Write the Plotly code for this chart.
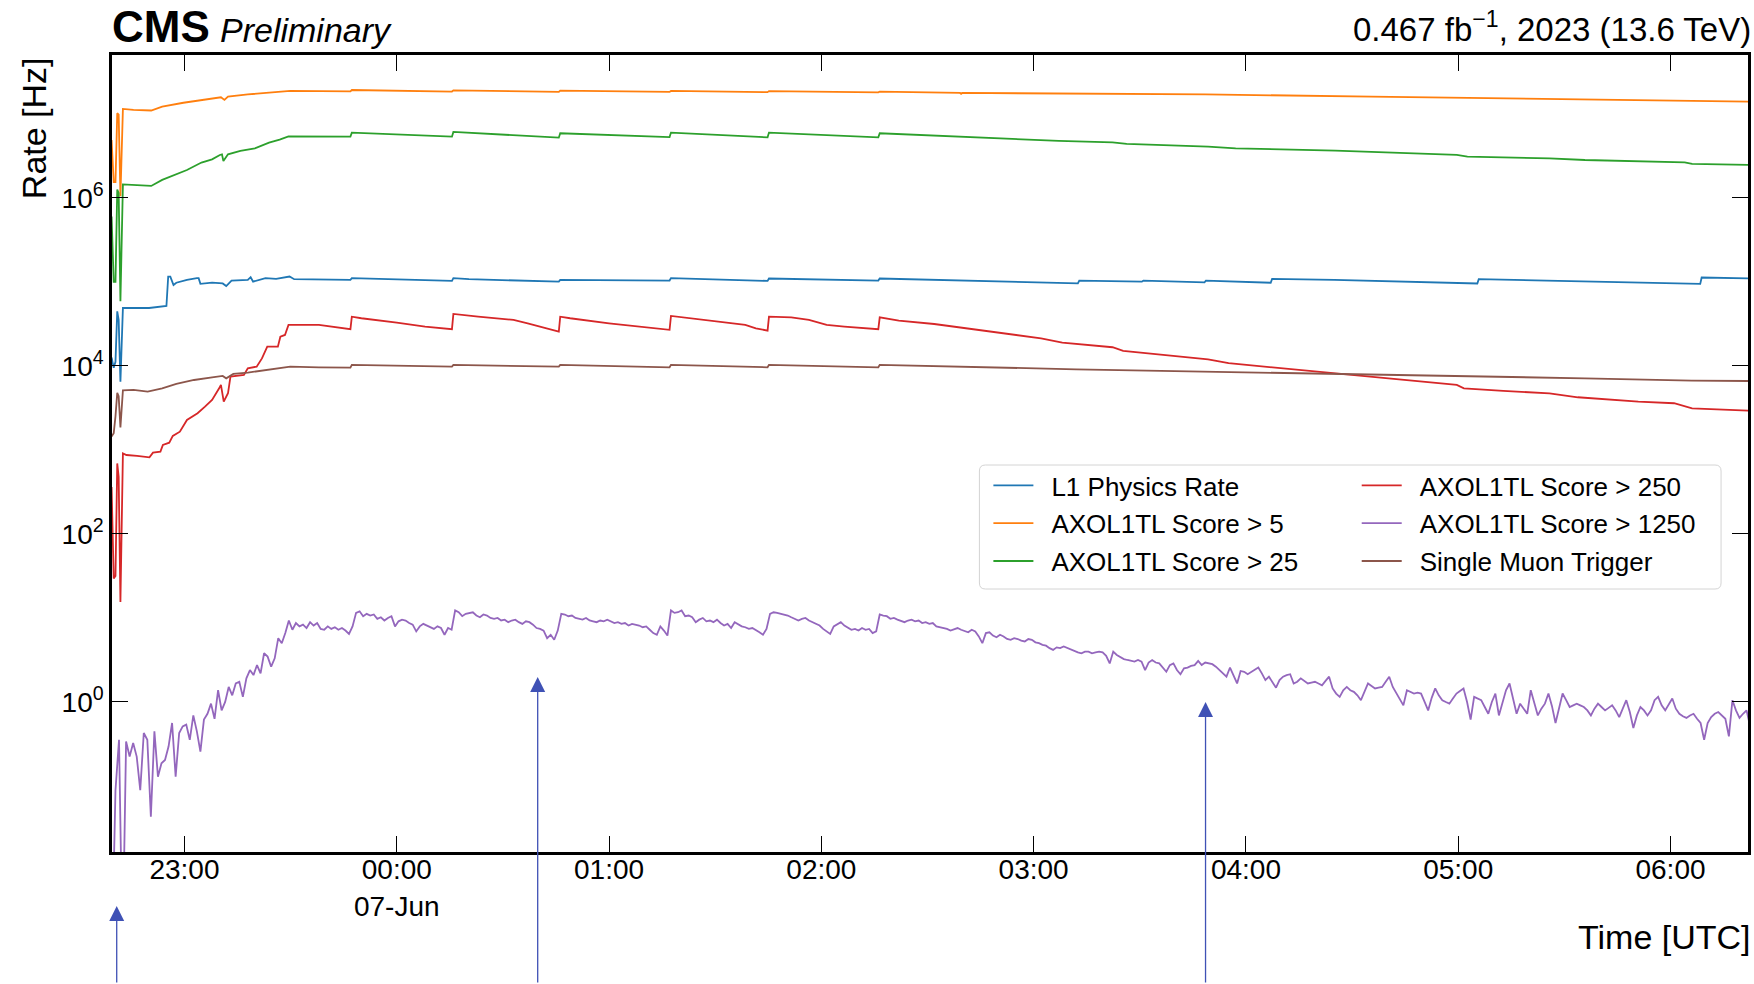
import pandas as pd
import plotly.graph_objects as go

# ---------------------------------------------------------------------------
# Trigger rates during the fill of 6/7 June 2023 (UTC clock times)
# ---------------------------------------------------------------------------
RUN_DAY = "2023-06-06"
NEXT_DAY = "2023-06-07"


def stamp(times):
    """Attach the calendar day to clock times (evening of 6 June, then 7 June)."""
    return [f"{RUN_DAY if t >= '12' else NEXT_DAY} {t}" for t in times]


series_names = [
    "L1 Physics Rate",
    "AXOL1TL Score > 5",
    "AXOL1TL Score > 25",
    "AXOL1TL Score > 250",
    "AXOL1TL Score > 1250",
    "Single Muon Trigger",
]
series_colors = ["#1f77b4", "#ff7f0e", "#2ca02c", "#d62728", "#9467bd", "#8c564b"]

# L1 physics rate [Hz]
l1_time = [
    "22:39:24", "22:40:00", "22:40:30", "22:41:00", "22:41:24", "22:41:54", "22:42:36",
    "22:50:00", "22:54:54", "22:55:24", "22:56:00", "22:56:54", "22:57:42", "23:00:42",
    "23:03:30", "23:04:00", "23:04:30", "23:07:48", "23:10:48", "23:11:48", "23:13:18",
    "23:17:54", "23:18:42", "23:19:24", "23:22:54", "23:25:54", "23:29:42", "23:31:00",
    "23:46:54", "23:47:18", "00:15:36", "00:16:00", "00:20:24", "00:45:48", "00:46:12",
    "01:10:00", "01:17:06", "01:17:30", "01:44:48", "01:45:12", "02:16:06", "02:16:30",
    "02:39:24", "02:52:00", "03:12:30", "03:12:54", "03:30:36", "03:31:00", "03:48:18",
    "03:48:42", "04:07:00", "04:07:24", "04:25:00", "05:05:24", "05:05:48", "05:25:00",
    "06:08:24", "06:08:48", "06:22:30",
]
l1_rate = [
    1.26e4, 9.5e3, 1.12e4, 4.47e4, 3.55e4, 6.5e3, 4.9e4,
    4.9e4, 5.18e4, 1.16e5, 1.16e5, 9.2e4, 9.8e4, 1.06e5,
    1.11e5, 1.11e5, 9.5e4, 9.8e4, 9.6e4, 8.95e4, 1.04e5,
    1.06e5, 1.14e5, 1.01e5, 1.11e5, 1.09e5, 1.16e5, 1.08e5,
    1.06e5, 1.11e5, 1.03e5, 1.11e5, 1.08e5, 1.01e5, 1.06e5,
    1.04e5, 1.04e5, 1.11e5, 1.03e5, 1.10e5, 1.04e5, 1.10e5,
    1.04e5, 1.01e5, 9.6e4, 1.04e5, 1.01e5, 1.04e5, 9.9e4,
    1.04e5, 9.8e4, 1.09e5, 1.06e5, 9.6e4, 1.08e5, 1.04e5,
    9.5e4, 1.13e5, 1.10e5,
]

# AXOL1TL score > 5 [Hz]
score5_time = [
    "22:39:24", "22:40:00", "22:40:30", "22:41:00", "22:41:24", "22:41:54", "22:42:36",
    "22:45:36", "22:50:36", "22:53:42", "22:59:42", "23:05:48", "23:10:18", "23:11:18",
    "23:12:18", "23:17:54", "23:23:54", "23:29:54", "23:46:54", "23:47:18", "00:15:36",
    "00:16:00", "00:45:48", "00:46:12", "01:17:06", "01:17:30", "01:44:48", "01:45:12",
    "02:16:06", "02:16:30", "02:39:12", "02:39:30", "02:39:48", "03:48:30", "04:35:24",
    "05:05:36", "05:35:48", "06:06:00", "06:22:30",
]
score5_rate = [
    4.9e6, 1.55e6, 1.55e6, 1.02e7, 9.8e6, 1.05e6, 1.15e7,
    1.12e7, 1.10e7, 1.22e7, 1.36e7, 1.50e7, 1.58e7, 1.47e7,
    1.61e7, 1.71e7, 1.81e7, 1.88e7, 1.86e7, 1.93e7, 1.85e7,
    1.91e7, 1.83e7, 1.90e7, 1.83e7, 1.88e7, 1.82e7, 1.87e7,
    1.81e7, 1.85e7, 1.78e7, 1.74e7, 1.78e7, 1.71e7, 1.61e7,
    1.54e7, 1.47e7, 1.42e7, 1.40e7,
]

# AXOL1TL score > 25 [Hz]
score25_time = [
    "22:39:24", "22:40:00", "22:40:30", "22:41:00", "22:41:24", "22:41:54", "22:42:36",
    "22:45:36", "22:50:36", "22:53:42", "22:56:42", "23:00:42", "23:04:48", "23:07:48",
    "23:10:00", "23:10:36", "23:11:00", "23:12:18", "23:15:48", "23:19:54", "23:23:54",
    "23:26:54", "23:29:24", "23:46:54", "23:47:18", "00:15:36", "00:16:00", "00:45:48",
    "00:46:12", "01:17:06", "01:17:30", "01:44:48", "01:45:12", "02:16:06", "02:16:30",
    "02:39:24", "02:52:00", "03:07:06", "03:22:18", "03:26:18", "03:49:18", "03:57:06",
    "04:25:18", "04:59:36", "05:02:36", "05:25:48", "05:35:48", "06:04:00", "06:06:06",
    "06:22:30",
]
score25_rate = [
    6.0e5, 1.0e5, 1.0e5, 1.26e6, 1.15e6, 5.9e4, 1.45e6,
    1.43e6, 1.39e6, 1.64e6, 1.83e6, 2.15e6, 2.64e6, 2.88e6,
    3.25e6, 3.31e6, 2.75e6, 3.31e6, 3.63e6, 3.90e6, 4.56e6,
    4.94e6, 5.42e6, 5.37e6, 6.0e6, 5.37e6, 6.11e6, 5.22e6,
    5.89e6, 5.31e6, 6.0e6, 5.27e6, 6.0e6, 5.27e6, 5.89e6,
    5.37e6, 5.04e6, 4.78e6, 4.60e6, 4.40e6, 4.08e6, 3.90e6,
    3.66e6, 3.25e6, 3.10e6, 2.96e6, 2.83e6, 2.66e6, 2.54e6,
    2.47e6,
]

# AXOL1TL score > 250 [Hz]
score250_time = [
    "22:39:24", "22:40:00", "22:40:30", "22:41:00", "22:41:24", "22:41:54", "22:42:36",
    "22:43:36", "22:46:36", "22:50:06", "22:51:06", "22:53:12", "22:53:54", "22:55:42",
    "22:56:42", "22:58:42", "23:00:42", "23:03:42", "23:05:48", "23:07:48", "23:09:48",
    "23:10:18", "23:11:06", "23:12:18", "23:13:00", "23:16:48", "23:17:54", "23:20:24",
    "23:21:54", "23:23:24", "23:26:24", "23:27:06", "23:28:24", "23:29:24", "23:38:00",
    "23:46:54", "23:47:18", "23:50:00", "00:00:00", "00:08:00", "00:15:36", "00:16:00",
    "00:23:00", "00:33:00", "00:37:00", "00:45:48", "00:46:12", "00:49:00", "01:00:00",
    "01:15:00", "01:17:06", "01:17:30", "01:21:00", "01:31:30", "01:38:30", "01:41:30",
    "01:44:48", "01:45:12", "01:51:30", "01:56:30", "02:01:30", "02:06:30", "02:16:06",
    "02:16:30", "02:21:54", "02:31:54", "02:39:00", "02:47:00", "02:52:00", "03:02:06",
    "03:08:06", "03:22:18", "03:25:18", "03:37:24", "03:45:24", "03:49:18", "03:55:06",
    "04:00:06", "04:11:12", "04:20:18", "04:30:18", "04:40:24", "04:50:30", "04:59:36",
    "05:01:36", "05:12:42", "05:25:48", "05:33:48", "05:50:54", "06:01:00", "06:06:06",
    "06:22:30",
]
score250_rate = [
    363, 29.5, 31.6, 692, 479, 15.5, 912,
    871, 851, 818, 929, 955, 1150, 1220,
    1470, 1650, 2275, 2735, 3280, 3940, 5420,
    5940, 3760, 4730, 7460, 7820, 9380, 9820,
    12300, 17000, 17000, 22300, 23400, 30800, 30800,
    27400, 38600, 37000, 32800, 29400, 27400, 41600,
    38600, 35300, 32200, 25600, 38600, 37000, 32200,
    27400, 26900, 39400, 37900, 33700, 30800, 28100,
    26400, 38600, 37900, 35300, 30800, 29400, 27400,
    37900, 34700, 31600, 28800, 25600, 24000, 21300,
    19000, 16700, 15100, 13500, 12300, 12000, 10800,
    10300, 9380, 8570, 7820, 7130, 6500, 5940,
    5420, 5040, 4730, 4240, 3760, 3600, 3130,
    2940,
]

# AXOL1TL score > 1250 [Hz], one value per minute starting at 22:39:30
score1250_start = "2023-06-06 22:39:30"
score1250_rate = [
    0.001, 0.089, 0.355, 0.001, 0.339, 0.224, 0.324, 0.224, 0.089, 0.427,
    0.355, 0.043, 0.447, 0.129, 0.186, 0.204, 0.295, 0.562, 0.129, 0.427,
    0.513, 0.537, 0.355, 0.692, 0.447, 0.257, 0.617, 0.724, 0.955, 0.631,
    1.38, 0.794, 1.00, 1.51, 1.20, 1.66, 1.74, 1.15, 1.91, 2.40,
    2.09, 2.75, 2.19, 3.80, 3.47, 2.63, 3.31, 5.75, 5.01, 6.61,
    9.33, 7.24, 8.71, 7.94, 8.32, 7.59, 8.91, 8.13, 8.71, 7.41,
    7.24, 7.94, 7.41, 7.76, 7.24, 7.59, 7.08, 6.46, 7.94, 11.5,
    12.0, 10.5, 11.2, 10.7, 11.0, 9.77, 10.2, 9.33, 10.0, 10.5,
    7.94, 9.12, 9.55, 9.33, 8.71, 8.32, 6.92, 7.94, 8.51, 8.13,
    7.76, 7.41, 7.94, 7.59, 6.31, 7.59, 7.24, 12.3, 11.7, 10.5,
    11.2, 11.5, 11.7, 10.7, 10.2, 11.0, 10.7, 10.0, 9.77, 10.0,
    9.33, 9.55, 8.91, 9.33, 9.55, 8.91, 8.51, 9.12, 8.91, 8.32,
    7.59, 7.41, 7.08, 5.75, 6.31, 5.50, 7.08, 11.2, 11.0, 10.5,
    10.7, 10.0, 9.77, 9.55, 10.0, 9.33, 9.12, 8.91, 9.33, 9.12,
    9.55, 9.12, 8.71, 8.91, 8.51, 8.71, 8.13, 8.51, 8.32, 8.13,
    7.76, 7.94, 7.24, 6.61, 6.31, 7.94, 7.08, 6.17, 12.3, 11.5,
    11.7, 12.3, 10.5, 10.7, 10.2, 8.91, 9.55, 10.0, 9.12, 9.33,
    8.91, 9.55, 8.71, 8.13, 8.51, 7.59, 8.91, 8.32, 7.94, 7.76,
    7.41, 7.59, 7.24, 6.76, 6.31, 7.41, 11.2, 11.7, 11.5, 11.2,
    11.0, 10.7, 10.2, 9.77, 9.33, 9.77, 10.0, 9.33, 8.91, 8.51,
    8.13, 7.41, 6.92, 6.46, 7.94, 8.51, 8.91, 8.13, 7.59, 7.24,
    7.41, 7.08, 7.59, 7.24, 7.41, 6.61, 6.92, 11.0, 10.7, 10.5,
    9.77, 10.0, 9.55, 9.12, 8.91, 9.33, 9.55, 9.12, 9.33, 8.71,
    8.91, 8.51, 8.71, 7.94, 7.76, 7.59, 7.41, 7.08, 7.41, 7.59,
    7.24, 6.92, 6.76, 7.24, 6.92, 6.03, 5.01, 6.61, 6.76, 6.17,
    5.89, 6.31, 6.03, 5.62, 5.50, 5.75, 5.62, 5.37, 5.25, 5.62,
    5.50, 5.13, 5.01, 4.79, 4.68, 4.37, 4.17, 4.47, 4.37, 4.57,
    4.37, 4.17, 4.07, 3.89, 3.80, 3.98, 3.98, 3.80, 3.89, 3.98,
    3.89, 3.55, 2.88, 3.98, 3.63, 3.39, 3.24, 3.16, 3.09, 3.02,
    3.16, 3.02, 2.40, 2.95, 3.16, 2.95, 2.88, 2.57, 2.29, 2.75,
    2.88, 2.40, 2.14, 2.51, 2.57, 2.69, 2.75, 3.09, 2.75, 2.95,
    2.88, 2.82, 2.63, 2.40, 2.19, 2.00, 2.57, 2.09, 1.66, 2.34,
    2.29, 2.14, 2.29, 2.40, 2.57, 2.19, 1.82, 2.00, 1.74, 1.48,
    1.82, 2.00, 2.09, 2.14, 1.66, 1.74, 1.91, 1.78, 1.66, 1.70,
    1.74, 1.66, 1.58, 1.78, 2.00, 1.45, 1.26, 1.15, 1.38, 1.51,
    1.38, 1.32, 1.20, 1.05, 1.32, 1.66, 1.55, 1.45, 1.48, 1.51,
    1.74, 2.00, 1.51, 1.26, 1.07, 0.912, 1.38, 1.32, 1.26, 1.29,
    1.26, 1.00, 0.794, 1.12, 1.45, 1.20, 1.05, 1.00, 0.955, 1.10,
    1.26, 1.35, 1.45, 1.00, 0.617, 1.15, 1.10, 1.05, 0.871, 0.724,
    1.00, 1.26, 0.692, 1.00, 1.38, 1.66, 1.12, 0.724, 0.955, 0.832,
    0.724, 1.38, 1.00, 0.692, 0.832, 0.955, 1.26, 0.891, 0.562, 0.832,
    1.26, 1.05, 0.871, 0.912, 0.955, 0.912, 0.871, 0.794, 0.692, 0.832,
    0.955, 0.871, 0.794, 0.851, 0.912, 0.794, 0.661, 0.832, 1.05, 0.759,
    0.490, 0.692, 0.871, 0.794, 0.692, 0.794, 1.05, 1.15, 0.912, 0.794,
    0.955, 1.10, 0.832, 0.724, 0.676, 0.646, 0.692, 0.724, 0.631, 0.562,
    0.355, 0.562, 0.661, 0.724, 0.759, 0.692, 0.631, 0.389, 1.05, 0.794,
    0.646, 0.724, 0.794, 0.513,
]

# Single muon trigger [Hz]
muon_time = [
    "22:39:24", "22:40:00", "22:40:30", "22:41:00", "22:41:24", "22:41:54", "22:42:36",
    "22:45:36", "22:49:36", "22:53:42", "22:57:42", "23:02:42", "23:07:48", "23:10:48",
    "23:11:48", "23:13:48", "23:17:54", "23:22:54", "23:29:54", "23:38:00", "23:46:54",
    "23:47:18", "00:15:36", "00:16:00", "00:45:48", "00:46:12", "01:17:06", "01:17:30",
    "01:44:48", "01:45:12", "02:16:06", "02:16:30", "02:39:24", "02:52:00", "03:12:00",
    "03:32:00", "03:49:18", "04:25:18", "05:05:36", "05:35:48", "06:06:00", "06:22:30",
]
muon_rate = [
    1450, 1580, 2510, 4790, 4370, 1860, 5130,
    5180, 4940, 5420, 6110, 6810, 7330, 7600,
    7130, 8040, 8340, 8970, 9820, 9640, 9550,
    10300, 9820, 10300, 9820, 10300, 9640, 10300,
    9640, 10300, 9640, 10300, 9820, 9380, 9120,
    8810, 8570, 8040, 7460, 7130, 6680, 6620,
]

# Axis ticks and labels
time_range = ["2023-06-06 22:39:31", "2023-06-07 06:21:54"]
hour_ticks = ["23:00", "00:00", "01:00", "02:00", "03:00", "04:00", "05:00", "06:00"]
hour_labels = ["23:00", "00:00<br>07-Jun", "01:00", "02:00", "03:00", "04:00", "05:00", "06:00"]
rate_ticks = [1, 1e2, 1e4, 1e6]
rate_labels = ["10<sup>0</sup>", "10<sup>2</sup>", "10<sup>4</sup>", "10<sup>6</sup>"]
log_rate_range = [-1.786, 7.702]

# Times marked with arrows below the axis
marker_times = ["22:40:51", "00:39:50", "03:48:35"]

# ---------------------------------------------------------------------------
FONT = "Liberation Sans"
fig = go.Figure()

score1250_time = pd.date_range(score1250_start, periods=len(score1250_rate), freq="min")

traces = [
    (stamp(l1_time), l1_rate),
    (stamp(score5_time), score5_rate),
    (stamp(score25_time), score25_rate),
    (stamp(score250_time), score250_rate),
    (score1250_time, score1250_rate),
    (stamp(muon_time), muon_rate),
]
legend_of = ["legend", "legend", "legend", "legend2", "legend2", "legend2"]

for i, ((t, r), name, color) in enumerate(zip(traces, series_names, series_colors)):
    fig.add_trace(
        go.Scatter(
            x=t, y=r, mode="lines", name="\u2002" + name,
            line=dict(color=color, width=1.8),
            legend=legend_of[i], legendgroup=name,
            hoverinfo="skip",
        )
    )

axis_common = dict(
    showline=True, linewidth=2.5, linecolor="black", mirror="allticks",
    ticks="inside", ticklen=16, tickwidth=1.2, tickcolor="black",
    showgrid=False, zeroline=False,
    tickfont=dict(family=FONT, size=28, color="black"),
)

fig.update_xaxes(
    type="date", range=time_range,
    tickvals=stamp(hour_ticks), ticktext=hour_labels,
    ticklabelstandoff=-9,
    **axis_common,
)
fig.update_yaxes(
    type="log", range=log_rate_range,
    tickvals=rate_ticks, ticktext=rate_labels,
    ticklabelstandoff=0,
    **axis_common,
)

# Plot-area geometry (pixels) used to place decorations
W, H = 1754, 984
L, R, T, B = 112, 3, 55, 132
PW, PH = W - L - R, H - T - B


def px(xp):
    return (xp - L) / PW


def py(yp):
    return (H - B - yp) / PH


legend_common = dict(
    bgcolor="rgba(0,0,0,0)", borderwidth=0,
    font=dict(family=FONT, size=26, color="black"),
    traceorder="grouped", tracegroupgap=1, itemwidth=40,
    xanchor="left", yanchor="top",
)
fig.update_layout(
    legend=dict(x=px(990), y=py(462), **legend_common),
    legend2=dict(x=px(1359), y=py(462), **legend_common),
)

# Rounded legend frame
x0, x1, y0, y1 = px(981), px(1724), py(589), py(465)
rx, ry = 6 / PW, 6 / PH
frame = (
    f"M {x0 + rx},{y0} L {x1 - rx},{y0} Q {x1},{y0} {x1},{y0 + ry} "
    f"L {x1},{y1 - ry} Q {x1},{y1} {x1 - rx},{y1} L {x0 + rx},{y1} "
    f"Q {x0},{y1} {x0},{y1 - ry} L {x0},{y0 + ry} Q {x0},{y0} {x0 + rx},{y0} Z"
)
fig.add_shape(
    type="path", path=frame, xref="paper", yref="paper",
    fillcolor="rgba(255,255,255,0.8)", line=dict(color="#d4d4d4", width=1),
    layer="above",
)

annotations = [
    dict(text="<b>CMS</b>", x=0, xshift=-2, y=py(27), xanchor="left", yanchor="middle",
         font=dict(family=FONT, size=44, color="black")),
    dict(text="<i>Preliminary</i>", x=px(218), y=py(30.5), xanchor="left", yanchor="middle",
         font=dict(family=FONT, size=34, color="black")),
    dict(text="0.467 fb<sup>\u22121</sup>, 2023 (13.6 TeV)", x=1, xshift=5, y=py(27),
         xanchor="right", yanchor="middle", font=dict(family=FONT, size=33, color="black")),
    dict(text="Rate [Hz]", textangle=-90, x=px(34), y=py(55), xanchor="center", yanchor="top",
         font=dict(family=FONT, size=34, color="black")),
    dict(text="Time [UTC]", x=1, xshift=5, y=py(937), xanchor="right", yanchor="middle",
         font=dict(family=FONT, size=34, color="black")),
]
for a in annotations:
    a.update(xref="paper", yref="paper", showarrow=False)
    fig.add_annotation(**a)

# Upward arrows marking selected times
arrow_tips = [906, 677, 702]
for t, tip in zip(stamp(marker_times), arrow_tips):
    fig.add_annotation(
        x=t, xref="x", y=py(tip), yref="paper", text="",
        showarrow=True, ax=0, ay=H - tip, axref="pixel", ayref="pixel",
        arrowhead=2, arrowsize=2.3, arrowwidth=1.3, arrowcolor="#3f51b5",
        standoff=0,
    )

fig.update_layout(
    width=W, height=H, autosize=False,
    margin=dict(l=L, r=R, t=T, b=B, pad=0),
    paper_bgcolor="white", plot_bgcolor="white",
    font=dict(family=FONT, color="black"),
    showlegend=True,
)

fig.write_html("out.html")
